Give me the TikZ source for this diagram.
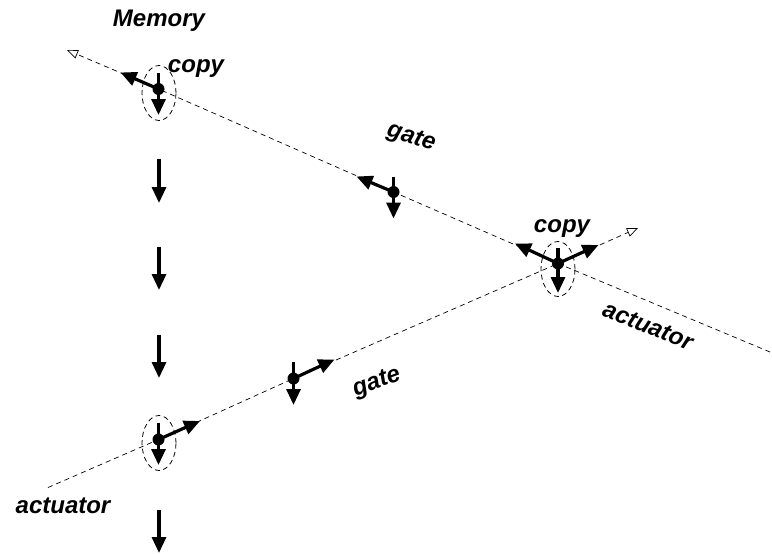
\documentclass[tikz,border=0pt]{standalone}
\usepackage{fontspec}
\setmainfont{Liberation Sans}
\usetikzlibrary{arrows.meta,calc,shapes.geometric}
\begin{document}
\begin{tikzpicture}[x=1pt,y=-1pt,
  dashline/.style={draw=black,line width=0.7pt,dash pattern=on 5pt off 4pt},
  openend/.style={-{Triangle[open,length=11pt,width=9pt,line width=0.7pt]}},
  bigarrow/.style={draw=black,line width=3.2pt,-{Triangle[length=16pt,width=14pt]}},
  dotnode/.style={circle,fill=black,inner sep=0pt,minimum size=12pt},
  ringnode/.style={ellipse,draw=black,line width=0.8pt,dash pattern=on 5pt off 3.5pt,inner sep=0pt,minimum width=34pt,minimum height=55pt},
  lab/.style={font=\fontsize{24}{24}\selectfont\bfseries\itshape,inner sep=0pt}
]
\path[use as bounding box] (0,0) rectangle (772,554);

% rings
\node[ringnode] (r1) at (159,93) {};
\node[ringnode] (r3) at (558,269) {};
\node[ringnode] (r5) at (159,443) {};

% dots
\node[dotnode] (d1) at (158.5,89) {};
\node[dotnode] (d2) at (393.5,192) {};
\node[dotnode] (d3) at (558,263.5) {};
\node[dotnode] (d4) at (293.5,378.5) {};
\node[dotnode] (d5) at (158.5,439.5) {};

% line ends
\coordinate (s1) at (67,50);
\coordinate (e1) at (770,352);
\coordinate (s2) at (48,487.5);
\coordinate (e2) at (638,228);

\draw[dashline,openend] (e1) -- (d3.center) -- (d2.center) -- (d1.center) -- (s1);
\draw[dashline,openend] (s2) -- (d5.center) -- (d4.center) -- (d3.center) -- (e2);

% diagonal arrows
\coordinate (t1) at ($(d1)+(-38,-16.5)$);
\coordinate (t2) at ($(d2)+(-37,-15.5)$);
\coordinate (t3a) at ($(d3)+(-43,-20)$);
\coordinate (t3b) at ($(d3)+(40.5,-18.5)$);
\coordinate (t4) at ($(d4)+(41,-19)$);
\coordinate (t5) at ($(d5)+(41.5,-18.5)$);
\draw[bigarrow] (d1.center) -- (t1);
\draw[bigarrow] (d2.center) -- (t2);
\draw[bigarrow] (d3.center) -- (t3a);
\draw[bigarrow] (d3.center) -- (t3b);
\draw[bigarrow] (d4.center) -- (t4);
\draw[bigarrow] (d5.center) -- (t5);

% vertical arrows through dots
\coordinate (v1a) at (158.5,73);
\coordinate (v1b) at (158.5,115);
\coordinate (v2a) at (393.5,176.5);
\coordinate (v2b) at (393.5,218.5);
\coordinate (v3a) at (558,248);
\coordinate (v3b) at (558,293);
\coordinate (v4a) at (293.5,361.5);
\coordinate (v4b) at (293.5,405);
\coordinate (v5a) at (158.5,422.5);
\coordinate (v5b) at (158.5,465);
\draw[bigarrow] (v1a) -- (v1b);
\draw[bigarrow] (v2a) -- (v2b);
\draw[bigarrow] (v3a) -- (v3b);
\draw[bigarrow] (v4a) -- (v4b);
\draw[bigarrow] (v5a) -- (v5b);

% standalone vertical arrows
\coordinate (a1) at (159,159);
\coordinate (b1) at (159,203);
\coordinate (a2) at (159,247);
\coordinate (b2) at (159,290);
\coordinate (a3) at (159,335);
\coordinate (b3) at (159,378);
\coordinate (a4) at (159,510);
\coordinate (b4) at (159,553);
\draw[bigarrow] (a1) -- (b1);
\draw[bigarrow] (a2) -- (b2);
\draw[bigarrow] (a3) -- (b3);
\draw[bigarrow] (a4) -- (b4);

% labels
\node[lab,anchor=base] (memory) at (159,27) {Memory};
\node[lab,anchor=base] (copy1) at (196,72) {copy};
\node[lab,rotate=-17] (gate1) at (411,138) {gate};
\node[lab,anchor=base] (copy2) at (562,232) {copy};
\node[lab,rotate=-22] (act1) at (648,326) {actuator};
\node[lab,rotate=20] (gate2) at (377,383) {gate};
\node[lab,anchor=base] (act2) at (63,513) {actuator};
\end{tikzpicture}
\end{document}
